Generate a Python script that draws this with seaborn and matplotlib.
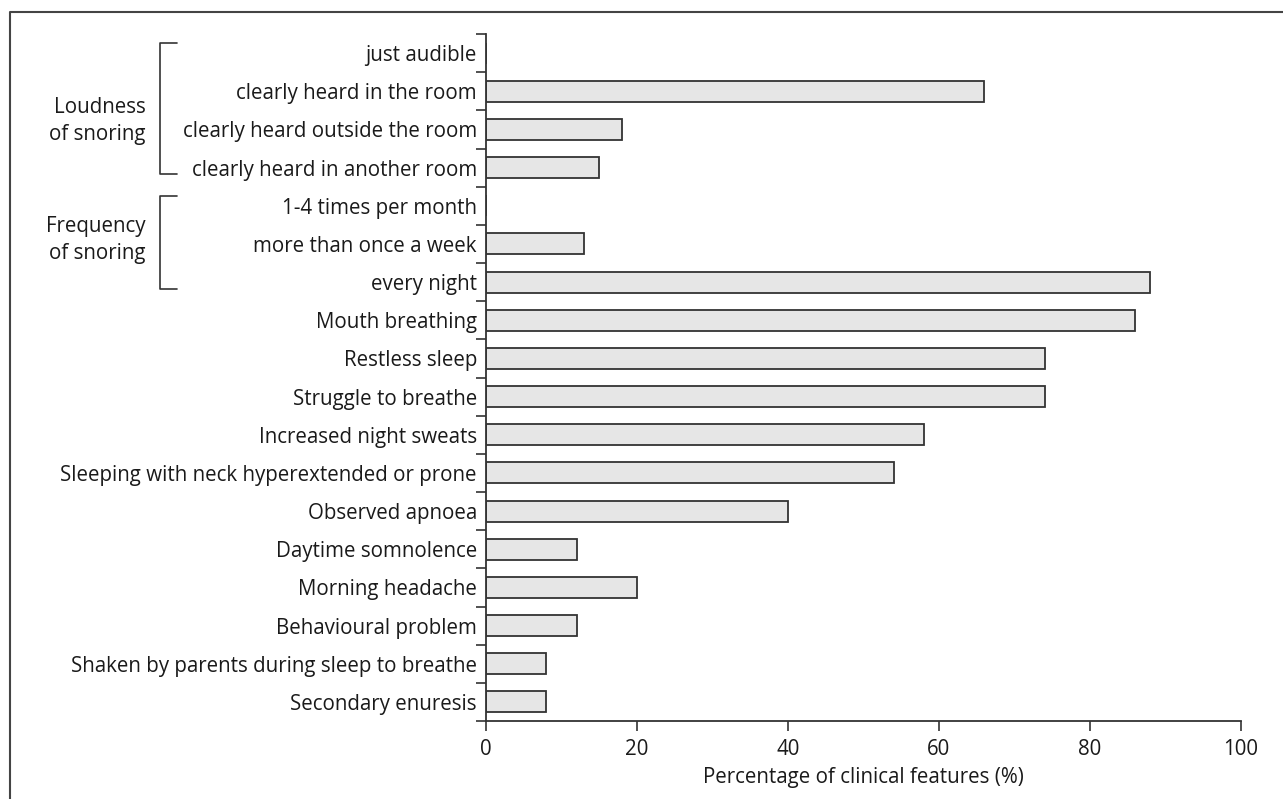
"""Clinical features of snoring children: horizontal bar chart."""

import matplotlib.pyplot as plt
import matplotlib.transforms as mtransforms
import numpy as np
import pandas as pd
import seaborn as sns

features = [
    "just audible",
    "clearly heard in the room",
    "clearly heard outside the room",
    "clearly heard in another room",
    "1-4 times per month",
    "more than once a week",
    "every night",
    "Mouth breathing",
    "Restless sleep",
    "Struggle to breathe",
    "Increased night sweats",
    "Sleeping with neck hyperextended or prone",
    "Observed apnoea",
    "Daytime somnolence",
    "Morning headache",
    "Behavioural problem",
    "Shaken by parents during sleep to breathe",
    "Secondary enuresis",
]
percentages = [0, 66, 18, 15, 0, 13, 88, 86, 74, 74, 58, 54, 40, 12, 20, 12, 8, 8]

group_labels = ["Loudness\nof snoring", "Frequency\nof snoring"]
group_first = [0, 4]
group_last = [3, 6]

x_ticks = [0, 20, 40, 60, 80, 100]
x_label = "Percentage of clinical features (%)"

sns.set_theme(style="ticks")
plt.rcParams["font.family"] = ["Open Sans", "DejaVu Sans"]

FS = 14.8
INK = "#333333"
TXT = "#1a1a1a"

df = pd.DataFrame({"feature": features, "pct": percentages})

fig = plt.figure(figsize=(12.83, 7.99), dpi=100)
ax = fig.add_axes([486 / 1283, 1 - 721 / 799, 755 / 1283, 687 / 799])

sns.barplot(
    data=df,
    x="pct",
    y="feature",
    orient="h",
    color="#e6e6e6",
    saturation=1,
    edgecolor=INK,
    linewidth=1.3,
    width=0.55,
    ax=ax,
)

n = len(features)
ax.set_xlim(0, 100)
ax.set_ylim(n - 0.5, -0.5)
ax.set_xticks(x_ticks)
ax.set_xticklabels([str(t) for t in x_ticks], fontsize=FS, color=TXT)
ax.set_yticks(np.arange(n))
ax.set_yticklabels(features, fontsize=FS, color=TXT)
ax.set_yticks(np.arange(n + 1) - 0.5, minor=True)
ax.tick_params(axis="y", which="major", length=0, pad=6.5)
ax.tick_params(axis="y", which="minor", length=7.5, width=1.2, color=INK, direction="out")
ax.tick_params(axis="x", which="major", length=7.5, width=1.2, color=INK, pad=5.5)
ax.set_xlabel(x_label, fontsize=FS, color=TXT, labelpad=5)
ax.set_ylabel("")

sns.despine(ax=ax)
for side in ("left", "bottom"):
    ax.spines[side].set_linewidth(1.3)
    ax.spines[side].set_color(INK)

# brackets grouping the snoring sub-items
trans = mtransforms.blended_transform_factory(ax.transAxes, ax.transData)
x_bar = (160 - 486) / 755
x_arm = (177 - 486) / 755
x_txt = (146 - 486) / 755
label_shift = [0.28, -0.1]
for label, first, last, shift in zip(group_labels, group_first, group_last, label_shift):
    top, bottom = first - 0.26, last + 0.18
    ax.plot(
        [x_arm, x_bar, x_bar, x_arm],
        [top, top, bottom, bottom],
        transform=trans,
        color=INK,
        lw=1.2,
        clip_on=False,
    )
    ax.text(
        x_txt,
        (first + last) / 2 + shift,
        label,
        transform=trans,
        ha="right",
        va="center",
        fontsize=FS,
        color=TXT,
        linespacing=1.35,
    )

# outer frame (top and left edges visible)
fig.add_artist(
    plt.Line2D([10 / 1283, 10 / 1283, 1.0], [0.0, 1 - 12 / 799, 1 - 12 / 799],
               transform=fig.transFigure, color="#444444", lw=1.5)
)

fig.savefig("out.png", dpi=100)
